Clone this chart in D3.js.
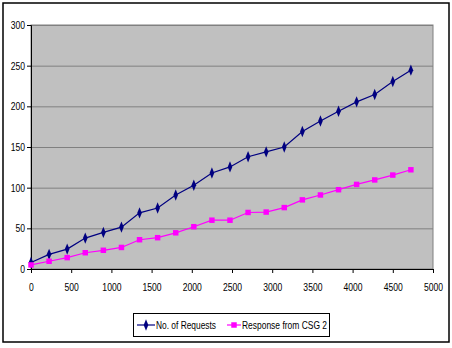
<!DOCTYPE html>
<html>
<head>
<meta charset="utf-8">
<script src="https://cdn.jsdelivr.net/npm/d3@7"></script>
<style>
  body { margin: 0; background: #fff; }
  svg { display: block; font-family: "Liberation Sans", Arial, sans-serif; }
</style>
</head>
<body>
<svg id="chart"></svg>
<script>
// data
const xValues = [0, 225, 450, 675, 900, 1125, 1350, 1575, 1800, 2025, 2250,
  2475, 2700, 2925, 3150, 3375, 3600, 3825, 4050, 4275, 4500, 4725]
const requests = [8, 18, 24.5, 38, 45, 51.5, 69, 75, 91, 103, 118,
  125.5, 138, 144, 150, 169, 182, 194, 205.5, 214.5, 230.5, 244.5]
const responses = [5, 9.5, 14, 20, 23, 26.5, 36, 38.5, 44.5, 52, 60,
  60, 69.5, 70, 75.5, 85, 91, 97.5, 104, 109.5, 115.5, 122]
const xTicks = [0, 500, 1000, 1500, 2000, 2500, 3000, 3500, 4000, 4500, 5000]
const yTicks = [0, 50, 100, 150, 200, 250, 300]
const seriesNames = ['No. of Requests', 'Response from CSG 2']

const width = 452
const height = 348
const plot = { left: 31, right: 433, top: 25, bottom: 269 }
const narrow = 0.78 // squeeze text like Arial Narrow

const svg = d3.select('#chart')
  .attr('width', width)
  .attr('height', height)

// outer frame
svg.append('rect')
  .attr('x', 3).attr('y', 3)
  .attr('width', 446).attr('height', 339)
  .attr('fill', '#fff')
  .attr('stroke', '#000')
  .attr('stroke-width', 1.5)

const x = d3.scaleLinear().domain([0, 5000]).range([plot.left, plot.right])
const y = d3.scaleLinear().domain([0, 300]).range([plot.bottom, plot.top])

// plot background
svg.append('rect')
  .attr('x', plot.left).attr('y', plot.top)
  .attr('width', plot.right - plot.left)
  .attr('height', plot.bottom - plot.top)
  .attr('fill', '#c0c0c0')
  .attr('stroke', '#808080')
  .attr('stroke-width', 1)

// grid lines
svg.append('g')
  .selectAll('line')
  .data(yTicks.slice(1))
  .enter()
  .append('line')
  .attr('x1', plot.left).attr('x2', plot.right)
  .attr('y1', d => y(d) + 0.5).attr('y2', d => y(d) + 0.5)
  .attr('stroke', '#808080')
  .attr('stroke-width', 1)

// axes
const xAxis = svg.append('g')
  .attr('transform', `translate(0,${plot.bottom})`)
  .call(d3.axisBottom(x).tickValues(xTicks).tickFormat(d3.format('d')).tickSize(4).tickPadding(10))
const yAxis = svg.append('g')
  .attr('transform', `translate(${plot.left},0)`)
  .call(d3.axisLeft(y).tickValues(yTicks).tickFormat(d3.format('d')).tickSize(4).tickPadding(2))

;[xAxis, yAxis].forEach(g => {
  g.select('.domain').attr('stroke', '#000')
  g.selectAll('.tick line').attr('stroke', '#000')
  g.selectAll('.tick text').attr('fill', '#000').style('font-size', '11px')
    .attr('transform', `scale(${narrow},1)`)
})
yAxis.selectAll('.tick text').attr('x', -6 / narrow)

const colors = ['#000080', '#ff00ff']
const allSeries = [requests, responses]

const line = d3.line()
  .x((d, i) => x(xValues[i]))
  .y(d => y(d))

allSeries.forEach((vals, s) => {
  svg.append('path')
    .datum(vals)
    .attr('d', line)
    .attr('fill', 'none')
    .attr('stroke', colors[s])
    .attr('stroke-width', 1.2)
})

const diamond = d3.symbol().type(d3.symbolDiamond).size(26)
const square = d3.symbol().type(d3.symbolSquare).size(30)

svg.append('g')
  .selectAll('path')
  .data(requests)
  .enter()
  .append('path')
  .attr('d', diamond)
  .attr('transform', (d, i) => `translate(${x(xValues[i])},${y(d)}) scale(0.85,1.2)`)
  .attr('fill', colors[0])

svg.append('g')
  .selectAll('path')
  .data(responses)
  .enter()
  .append('path')
  .attr('d', square)
  .attr('transform', (d, i) => `translate(${x(xValues[i])},${y(d)})`)
  .attr('fill', colors[1])

// legend
const legend = svg.append('g')
legend.append('rect')
  .attr('x', 133.5).attr('y', 313.5)
  .attr('width', 196).attr('height', 23)
  .attr('fill', '#fff')
  .attr('stroke', '#000')
  .attr('stroke-width', 1)

const legendItems = [
  { x: 137, textX: 156, textW: 60, name: seriesNames[0], sym: diamond, tf: 'scale(0.85,1.2)' },
  { x: 227, textX: 242, textW: 85, name: seriesNames[1], sym: square, tf: '' }
]
legendItems.forEach((item, i) => {
  const cy = 325
  legend.append('line')
    .attr('x1', item.x).attr('x2', item.textX - 1)
    .attr('y1', cy).attr('y2', cy)
    .attr('stroke', colors[i])
    .attr('stroke-width', 1.2)
  legend.append('path')
    .attr('d', item.sym)
    .attr('transform', `translate(${(item.x + item.textX - 1) / 2},${cy}) ${item.tf}`)
    .attr('fill', colors[i])
  legend.append('text')
    .attr('x', item.textX)
    .attr('y', cy + 4)
    .attr('textLength', item.textW)
    .attr('lengthAdjust', 'spacingAndGlyphs')
    .style('font-size', '11px')
    .text(item.name)
})
</script>
</body>
</html>
